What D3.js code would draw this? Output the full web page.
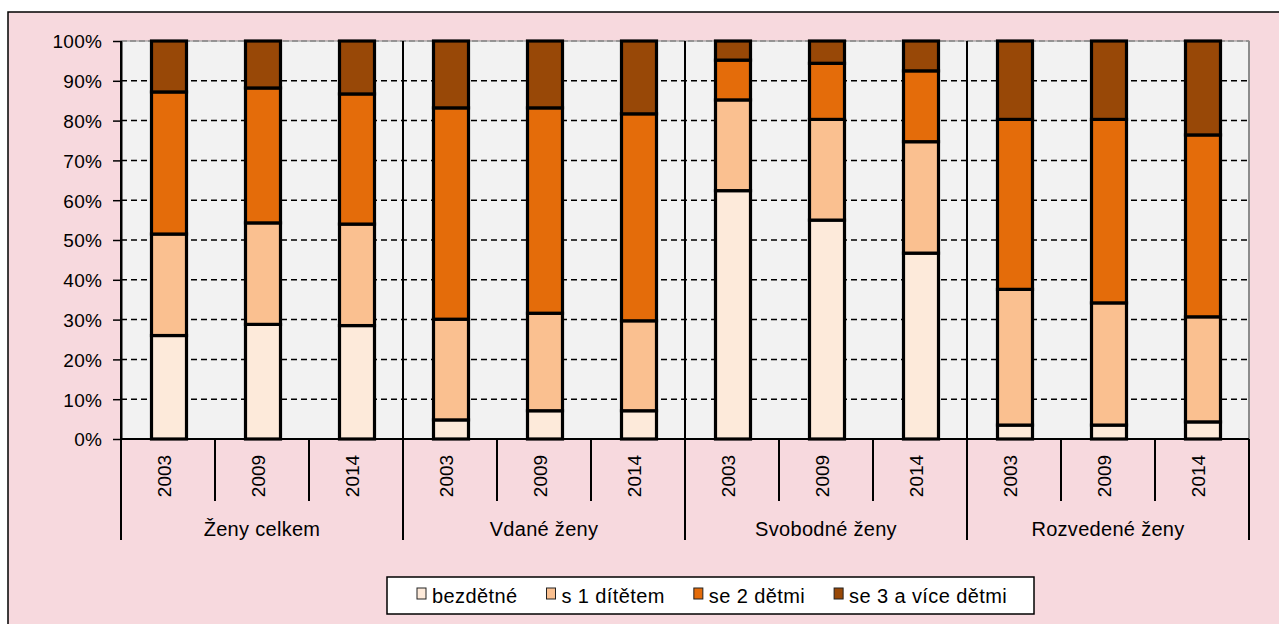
<!DOCTYPE html>
<html>
<head>
<meta charset="utf-8">
<script src="https://cdn.jsdelivr.net/npm/d3@7"></script>
<style>
  body { margin: 0; background: #fff; }
  svg text { font-family: "Liberation Sans", Arial, sans-serif; fill: #000; }
</style>
</head>
<body>
<div id="chart"></div>
<script>
// skupiny žen a roky
const groups = ["Ženy celkem", "Vdané ženy", "Svobodné ženy", "Rozvedené ženy"];
const years = ["2003", "2009", "2014"];
const seriesNames = ["bezdětné", "s 1 dítětem", "se 2 dětmi", "se 3 a více dětmi"];
const seriesColors = ["#FDEADA", "#FAC090", "#E46C0A", "#984807"];
const yTicks = [0, 10, 20, 30, 40, 50, 60, 70, 80, 90, 100];

// hodnoty v %, pořadí: skupina x rok
const bezdetne = [26.0, 28.8, 28.5, 4.8, 7.1, 7.1, 62.4, 55.0, 46.7, 3.5, 3.5, 4.3];
const s1ditetem = [25.5, 25.5, 25.5, 25.3, 24.5, 22.6, 22.8, 25.3, 28.0, 34.1, 30.7, 26.4];
const se2detmi = [35.7, 33.9, 32.7, 53.1, 51.6, 52.0, 10.0, 14.1, 17.8, 42.7, 46.1, 45.7];
const se3detmi = [12.8, 11.8, 13.3, 16.8, 16.8, 18.3, 4.8, 5.6, 7.5, 19.7, 19.7, 23.6];

const W = 1279, H = 624;
const plot = {left: 121, right: 1249, top: 41, bottom: 439};

const rows = d3.cross(groups, years).map(([g, yr], i) => ({
  key: g + "|" + yr, group: g, year: yr,
  "bezdětné": bezdetne[i], "s 1 dítětem": s1ditetem[i],
  "se 2 dětmi": se2detmi[i], "se 3 a více dětmi": se3detmi[i]
}));

const svg = d3.select("#chart").append("svg")
  .attr("width", W).attr("height", H);

// růžová plocha grafu
svg.append("rect")
  .attr("x", 8).attr("y", 12).attr("width", W + 20).attr("height", H + 20)
  .attr("fill", "#F7D9DE").attr("stroke", "#000").attr("stroke-width", 1.5);

const x = d3.scaleBand()
  .domain(rows.map(d => d.key))
  .range([plot.left, plot.right])
  .padding(0);
const gx = d3.scaleBand().domain(groups).range([plot.left, plot.right]);
const y = d3.scaleLinear().domain([0, 100]).range([plot.bottom, plot.top]);

svg.append("rect")
  .attr("x", plot.left).attr("y", plot.top)
  .attr("width", plot.right - plot.left).attr("height", plot.bottom - plot.top)
  .attr("fill", "#F2F2F2").attr("stroke", "#8c8c8c").attr("stroke-width", 1);

// mřížka
svg.append("g").selectAll("line")
  .data(yTicks.filter(t => t > 0 && t < 100))
  .join("line")
  .attr("x1", plot.left).attr("x2", plot.right)
  .attr("y1", d => y(d)).attr("y2", d => y(d))
  .attr("stroke", "#000").attr("stroke-width", 1.5)
  .attr("stroke-dasharray", "6,4");
svg.append("line")
  .attr("x1", plot.left).attr("x2", plot.right)
  .attr("y1", y(100)).attr("y2", y(100))
  .attr("stroke", "#888").attr("stroke-width", 1.5)
  .attr("stroke-dasharray", "6,3");

// svislé oddělovače skupin
const sepX = groups.map(g => gx(g)).concat([plot.right]);
svg.append("g").selectAll("line")
  .data(sepX)
  .join("line")
  .attr("x1", d => d).attr("x2", d => d)
  .attr("y1", plot.top)
  .attr("y2", 540)
  .attr("stroke", "#000")
  .attr("stroke-width", 2);
// pravý okraj plochy šedě
svg.append("line")
  .attr("x1", plot.right).attr("x2", plot.right)
  .attr("y1", plot.top).attr("y2", plot.bottom)
  .attr("stroke", "#8c8c8c").attr("stroke-width", 2);

// malé dělítka mezi roky
svg.append("g").selectAll("line")
  .data(rows.filter(d => d.year !== years[0]))
  .join("line")
  .attr("x1", d => x(d.key)).attr("x2", d => x(d.key))
  .attr("y1", plot.bottom).attr("y2", 501)
  .attr("stroke", "#000").attr("stroke-width", 2);

// sloupce
const stack = d3.stack().keys(seriesNames);
const layers = stack(rows);
const barW = 35;
svg.append("g").selectAll("g")
  .data(layers)
  .join("g")
  .attr("fill", (d, i) => seriesColors[i])
  .selectAll("rect")
  .data(d => d)
  .join("rect")
  .attr("x", d => x(d.data.key) + x.bandwidth() / 2 - barW / 2 + 1)
  .attr("width", barW)
  .attr("y", d => y(d[1]))
  .attr("height", d => y(d[0]) - y(d[1]))
  .attr("stroke", "#000").attr("stroke-width", 3.2);

// osa y
const yAxis = d3.axisLeft(y)
  .tickValues(yTicks)
  .tickFormat(d => d + "%")
  .tickSize(8).tickPadding(11).tickSizeOuter(0);
const ya = svg.append("g").attr("transform", `translate(${plot.left},0)`).call(yAxis);
ya.select(".domain").attr("stroke", "#000").attr("stroke-width", 2);
ya.selectAll(".tick line").attr("stroke", "#000").attr("stroke-width", 1.5);
ya.selectAll(".tick text").style("font-size", "19px").style("letter-spacing", "0.2px")
  .attr("dy", "0.36em");

// osa x
svg.append("line")
  .attr("x1", plot.left).attr("x2", plot.right)
  .attr("y1", plot.bottom).attr("y2", plot.bottom)
  .attr("stroke", "#000").attr("stroke-width", 2);

svg.append("g").selectAll("text")
  .data(rows)
  .join("text")
  .attr("transform", d => `translate(${x(d.key) + x.bandwidth() / 2 + 3},476) rotate(-90)`)
  .attr("text-anchor", "middle")
  .style("font-size", "19px")
  .text(d => d.year);

svg.append("g").selectAll("text")
  .data(groups)
  .join("text")
  .attr("x", d => gx(d) + gx.bandwidth() / 2)
  .attr("y", 536)
  .attr("text-anchor", "middle")
  .style("font-size", "20px")
  .style("letter-spacing", "0.3px")
  .text(d => d);

// legenda
const leg = svg.append("g");
leg.append("rect")
  .attr("x", 387).attr("y", 577).attr("width", 647).attr("height", 37)
  .attr("fill", "#fff").attr("stroke", "#000").attr("stroke-width", 1.5);
let lx = 417;
seriesNames.forEach((name, i) => {
  leg.append("rect")
    .attr("x", lx).attr("y", 588).attr("width", 9).attr("height", 11)
    .attr("fill", seriesColors[i]).attr("stroke", "#222").attr("stroke-width", 1);
  const t = leg.append("text")
    .attr("x", lx + 15).attr("y", 603)
    .style("font-size", "20px")
    .style("letter-spacing", "0.4px")
    .text(name);
  lx += 15 + t.node().getComputedTextLength() + 29;
});
</script>
</body>
</html>
